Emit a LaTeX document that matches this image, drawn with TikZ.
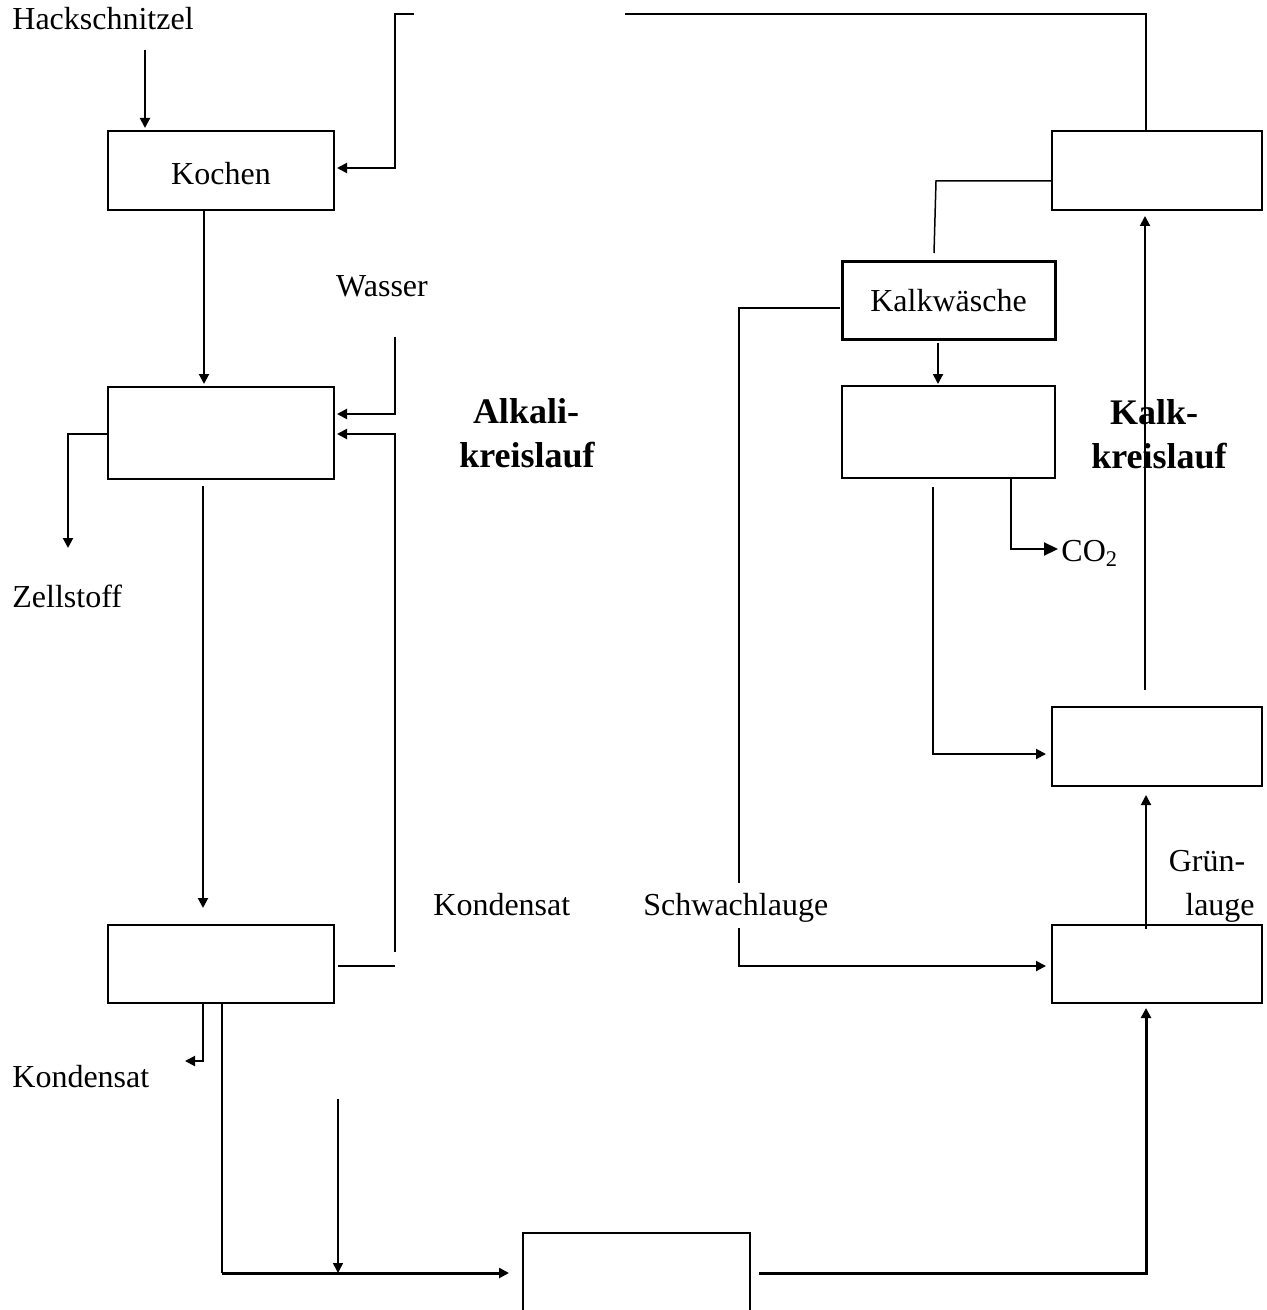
\documentclass[tikz,border=0pt]{standalone}
\usepackage{fontspec}
\setmainfont{Liberation Serif}
\usetikzlibrary{arrows.meta}
\begin{document}
\begin{tikzpicture}[x=0.5pt,y=-0.5pt,
  box/.style={draw, line width=1pt, inner sep=0pt, outer sep=0pt},
  line/.style={line width=1pt},
  thinline/.style={line width=0.75pt},
  flow/.style={line width=1pt, -{Triangle[length=5pt,width=5pt]}},
  bigflow/.style={line width=1pt, -{Triangle[length=7pt,width=6.5pt]}},
  txt/.style={inner sep=0pt, font=\fontsize{16}{19}\selectfont},
  big/.style={inner sep=0pt, font=\bfseries\fontsize{18}{22}\selectfont}]
\useasboundingbox (0,0) rectangle (1266,1310);
\clip (0,0) rectangle (1266,1310);

% boxes
\node[box, txt, minimum width=113pt, minimum height=39.5pt, text height=14.5pt, text depth=0pt] (koch) at (221,170.5) {Kochen};
\node[box, minimum width=113pt, minimum height=46pt] (wash) at (221,433) {};
\node[box, minimum width=113pt, minimum height=39pt] (evap) at (221,964) {};
\node[box, minimum width=113.5pt, minimum height=50pt] (boil) at (636.5,1283) {};
\node[box, minimum width=105pt, minimum height=39.5pt] (kiln) at (1157,170.5) {};
\node[box, txt, line width=1.5pt, minimum width=106.5pt, minimum height=39pt, text height=11pt, text depth=0pt] (kalkw) at (948.5,301) {Kalkwäsche};
\node[box, minimum width=106.5pt, minimum height=46pt] (caust) at (948.5,432) {};
\node[box, minimum width=105pt, minimum height=39.5pt] (clar) at (1157,746.5) {};
\node[box, minimum width=105pt, minimum height=39pt] (green) at (1157,964) {};

% labels
\node[txt, anchor=base west] (hack) at (12,30) {Hackschnitzel};
\node[txt, anchor=base] (wasser) at (382,297) {Wasser};
\node[txt, anchor=base west] (zell) at (12,607) {Zellstoff};
\node[txt, anchor=base west] (kondr) at (433,915) {Kondensat};
\node[txt, anchor=base west] (schwach) at (643,915) {Schwachlauge};
\node[txt, anchor=base west] (kondl) at (12,1087) {Kondensat};
\node[txt, anchor=base] (gruen) at (1207,871) {Grün-};
\node[txt, anchor=base] (lauge) at (1220,915) {lauge};
\node[txt, anchor=base west] (co2) at (1061,561) {CO\textsubscript{2}};
\node[big, anchor=base] (alk1) at (526,423) {Alkali-};
\node[big, anchor=base] (alk2) at (527,467) {kreislauf};
\node[big, anchor=base] (kal1) at (1154,424) {Kalk-};
\node[big, anchor=base] (kal2) at (1159,468) {kreislauf};

% left side connectors
\draw[flow, shorten >=1.5pt] (145,50) -- (koch.north -| 145,0);
\draw[flow, shorten >=1.5pt] (414,14) -- (395,14) -- (395,168) -- (koch.east |- 0,168);
\draw[flow, shorten >=1.5pt] (koch.south -| 204,0) -- (wash.north -| 204,0);
\draw[flow, shorten >=1.5pt] (395,337) -- (395,414) -- (wash.east |- 0,414);
\draw[flow, shorten >=1.5pt] (395,952) -- (395,434) -- (wash.east |- 0,434);
\draw[line] (338,966) -- (395,966);
\draw[flow] (wash.west |- 0,434) -- (68,434) -- (68,548);
\draw[flow, shorten >=8.5pt] (203,486) -- (evap.north -| 203,0);
\draw[flow] (evap.south -| 203,0) -- (203,1061) -- (185,1061);
\draw[line] (evap.south -| 222,0) -- (222,1273);
\draw[flow, line width=1.5pt, shorten >=7pt] (221.5,1273) -- (boil.west |- 0,1273);
\draw[flow, thinline] (338,1099) -- (338,1273);

% right side connectors
\draw[line] (625,14) -- (1146,14) -- (kiln.north -| 1146,0);
\draw[thinline] (kiln.west |- 0,181) -- (936,181) -- (934,253);
\draw[thinline] (840,308) -- (739,308) -- (739,883);
\draw[flow, shorten >=3pt] (739,928) -- (739,966) -- (green.west |- 0,966);
\draw[flow, shorten >=1pt] (938,343) -- (caust.north -| 938,0);
\draw[bigflow] (caust.south -| 1011,0) -- (1011,549) -- (1058,549);
\draw[flow, shorten >=3pt] (933,487) -- (933,754) -- (clar.west |- 0,754);
\draw[flow, shorten >=3pt] (1145,690) -- (kiln.south -| 1145,0);
\draw[flow, shorten >=4.5pt] (1146,929) -- (clar.south -| 1146,0);
\draw[flow, line width=1.5pt, line join=miter, shorten >=2.5pt] (759,1273) -- (1146,1273) -- (green.south -| 1146,0);
\end{tikzpicture}
\end{document}
